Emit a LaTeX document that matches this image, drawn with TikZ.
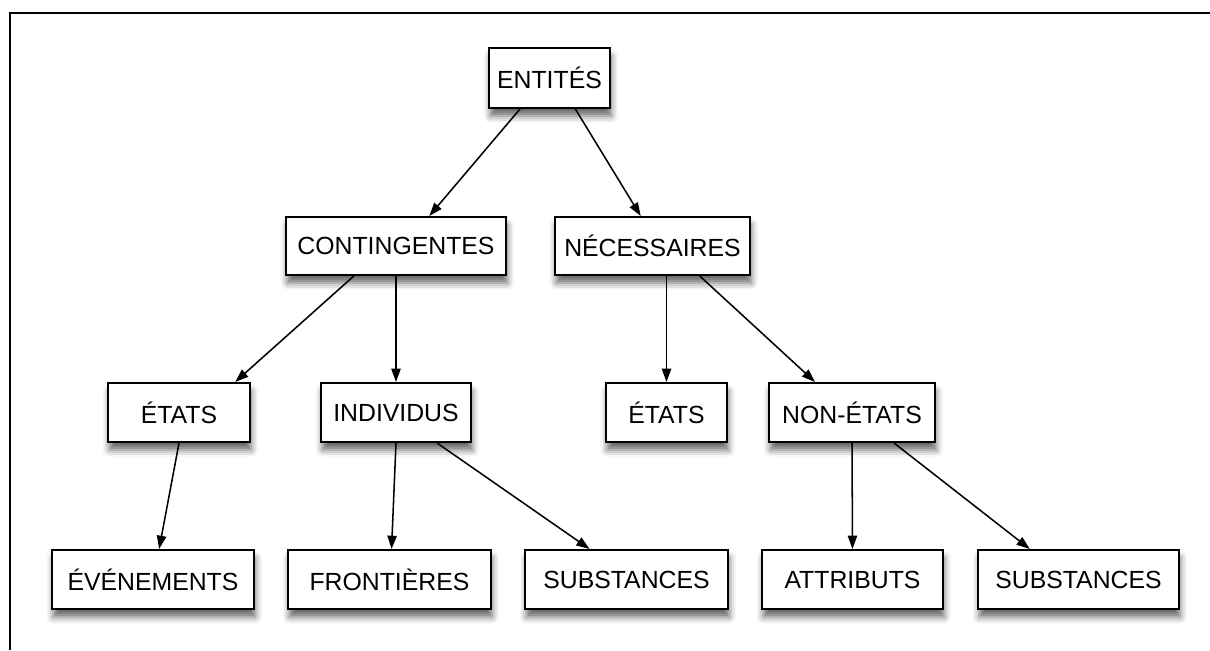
\documentclass[tikz,border=0pt]{standalone}
\usepackage{fontspec}
\setmainfont{Liberation Sans}
\usetikzlibrary{calc,arrows.meta,shadows.blur}
\begin{document}
\begin{tikzpicture}[x=0.75pt,y=-0.75pt,
  box/.style={draw=black, line width=1.5pt, fill=white, inner sep=0pt,
    font=\fontsize{18.6}{20}\selectfont,
    blur shadow={shadow xshift=1pt, shadow yshift=-6pt, shadow blur radius=5pt, shadow opacity=60}},
  link/.style={line width=1.15pt, -{Triangle[length=10pt,width=7pt]}},
  frame/.style={line width=1.5pt}
]
\useasboundingbox (0,0) rectangle (1210,650);
\draw[frame] (10,650) -- (10,13) -- (1210,13);

% row 1
\node[box, minimum width=121*0.75pt, minimum height=60*0.75pt] (ent) at (549.5,78) {ENTITÉS};
% row 2
\node[box, minimum width=220*0.75pt, minimum height=58*0.75pt] (cont) at (396,246) {CONTINGENTES};
\node[box, minimum width=195*0.75pt, minimum height=58*0.75pt] (nec) at (652.5,246) {NÉCESSAIRES};
% row 3
\node[box, minimum width=142*0.75pt, minimum height=59*0.75pt] (etl) at (179,412.5) {ÉTATS};
\node[box, minimum width=150*0.75pt, minimum height=59*0.75pt] (ind) at (396,412.5) {INDIVIDUS};
\node[box, minimum width=121*0.75pt, minimum height=59*0.75pt] (etr) at (666.5,412.5) {ÉTATS};
\node[box, minimum width=166*0.75pt, minimum height=59*0.75pt] (non) at (852,412.5) {NON-ÉTATS};
% row 4
\node[box, minimum width=202*0.75pt, minimum height=59*0.75pt] (eve) at (153,579.5) {ÉVÉNEMENTS};
\node[box, minimum width=203*0.75pt, minimum height=59*0.75pt] (fro) at (389.5,579.5) {FRONTIÈRES};
\node[box, minimum width=203*0.75pt, minimum height=59*0.75pt] (sub1) at (626.5,579.5) {SUBSTANCES};
\node[box, minimum width=181*0.75pt, minimum height=59*0.75pt] (att) at (852.5,579.5) {ATTRIBUTS};
\node[box, minimum width=201*0.75pt, minimum height=59*0.75pt] (sub2) at (1078.5,579.5) {SUBSTANCES};

% connectors
\draw[link] ($(ent.south west)!0.26!(ent.south east)$) -- ($(cont.north west)!0.65!(cont.north east)$);
\draw[link] ($(ent.south west)!0.71!(ent.south east)$) -- ($(nec.north west)!0.44!(nec.north east)$);
\draw[link] ($(cont.south west)!0.31!(cont.south east)$) -- ($(etl.north west)!0.89!(etl.north east)$);
\draw[link] (cont.south) -- (ind.north);
\draw[link] (nec.south -| etr.north) -- (etr.north);
\draw[link] ($(nec.south west)!0.74!(nec.south east)$) -- ($(non.north west)!0.28!(non.north east)$);
\draw[link] (etl.south) -- ($(eve.north west)!0.53!(eve.north east)$);
\draw[link] (ind.south) -- ($(fro.north west)!0.51!(fro.north east)$);
\draw[link] ($(ind.south west)!0.77!(ind.south east)$) -- ($(sub1.north west)!0.32!(sub1.north east)$);
\draw[link] (non.south) -- (att.north);
\draw[link] ($(non.south west)!0.75!(non.south east)$) -- ($(sub2.north west)!0.26!(sub2.north east)$);
\end{tikzpicture}
\end{document}
